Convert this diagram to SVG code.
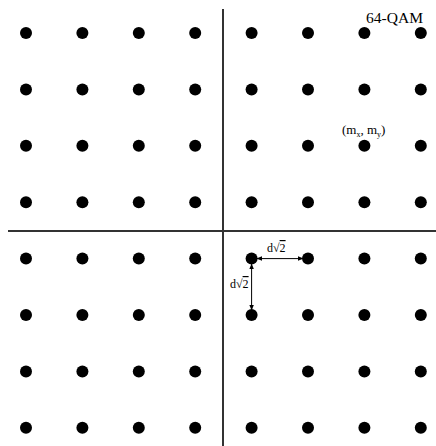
<svg xmlns="http://www.w3.org/2000/svg" width="436" height="446" viewBox="0 0 436 446">
<style>
.dot{fill:#000}
.axis{stroke:#333;stroke-width:2;fill:none}
.dim{stroke:#000;stroke-width:1;fill:none;marker-start:url(#ah);marker-end:url(#ah)}
text{font-family:"Liberation Serif","Times New Roman",serif;fill:#000}
.ov{text-decoration:overline}
</style>
<defs>
<marker id="ah" viewBox="0 0 10 10" refX="9" refY="5" markerWidth="6" markerHeight="6" orient="auto-start-reverse" markerUnits="userSpaceOnUse">
<path d="M0,1 L10,5 L0,9 z" fill="#000"/>
</marker>
<circle id="d" r="6" class="dot"/>
</defs>
<rect width="436" height="446" fill="#fff"/>
<g id="axes">
<line class="axis" x1="8" y1="231" x2="436" y2="231"/>
<line class="axis" x1="223" y1="9" x2="223" y2="446"/>
</g>
<g id="points">
<use href="#d" x="26" y="33"/><use href="#d" x="82.4" y="33"/><use href="#d" x="138.8" y="33"/><use href="#d" x="195.2" y="33"/><use href="#d" x="251.6" y="33"/><use href="#d" x="308" y="33"/><use href="#d" x="364.4" y="33"/><use href="#d" x="420.8" y="33"/>
<use href="#d" x="26" y="89.4"/><use href="#d" x="82.4" y="89.4"/><use href="#d" x="138.8" y="89.4"/><use href="#d" x="195.2" y="89.4"/><use href="#d" x="251.6" y="89.4"/><use href="#d" x="308" y="89.4"/><use href="#d" x="364.4" y="89.4"/><use href="#d" x="420.8" y="89.4"/>
<use href="#d" x="26" y="145.8"/><use href="#d" x="82.4" y="145.8"/><use href="#d" x="138.8" y="145.8"/><use href="#d" x="195.2" y="145.8"/><use href="#d" x="251.6" y="145.8"/><use href="#d" x="308" y="145.8"/><use href="#d" x="364.4" y="145.8"/><use href="#d" x="420.8" y="145.8"/>
<use href="#d" x="26" y="202.2"/><use href="#d" x="82.4" y="202.2"/><use href="#d" x="138.8" y="202.2"/><use href="#d" x="195.2" y="202.2"/><use href="#d" x="251.6" y="202.2"/><use href="#d" x="308" y="202.2"/><use href="#d" x="364.4" y="202.2"/><use href="#d" x="420.8" y="202.2"/>
<use href="#d" x="26" y="258.6"/><use href="#d" x="82.4" y="258.6"/><use href="#d" x="138.8" y="258.6"/><use href="#d" x="195.2" y="258.6"/><use href="#d" x="251.6" y="258.6"/><use href="#d" x="308" y="258.6"/><use href="#d" x="364.4" y="258.6"/><use href="#d" x="420.8" y="258.6"/>
<use href="#d" x="26" y="315"/><use href="#d" x="82.4" y="315"/><use href="#d" x="138.8" y="315"/><use href="#d" x="195.2" y="315"/><use href="#d" x="251.6" y="315"/><use href="#d" x="308" y="315"/><use href="#d" x="364.4" y="315"/><use href="#d" x="420.8" y="315"/>
<use href="#d" x="26" y="371.4"/><use href="#d" x="82.4" y="371.4"/><use href="#d" x="138.8" y="371.4"/><use href="#d" x="195.2" y="371.4"/><use href="#d" x="251.6" y="371.4"/><use href="#d" x="308" y="371.4"/><use href="#d" x="364.4" y="371.4"/><use href="#d" x="420.8" y="371.4"/>
<use href="#d" x="26" y="427.8"/><use href="#d" x="82.4" y="427.8"/><use href="#d" x="138.8" y="427.8"/><use href="#d" x="195.2" y="427.8"/><use href="#d" x="251.6" y="427.8"/><use href="#d" x="308" y="427.8"/><use href="#d" x="364.4" y="427.8"/><use href="#d" x="420.8" y="427.8"/>
</g>
<g id="connectors">
<line class="dim" x1="257" y1="258.6" x2="303" y2="258.6"/>
<line class="dim" x1="251.6" y1="264" x2="251.6" y2="310"/>
</g>
<g id="labels">
<text x="366" y="23" font-size="14" textLength="57" lengthAdjust="spacingAndGlyphs">64-QAM</text>
<text x="342" y="134" font-size="13">(m<tspan font-size="8" dy="3">x</tspan><tspan dy="-3">, m</tspan><tspan font-size="8" dy="3">y</tspan><tspan dy="-3">)</tspan></text>
<text x="267" y="252" font-size="12">d√<tspan class="ov">2</tspan></text>
<text x="230" y="288" font-size="12">d√<tspan class="ov">2</tspan></text>
</g>
</svg>
